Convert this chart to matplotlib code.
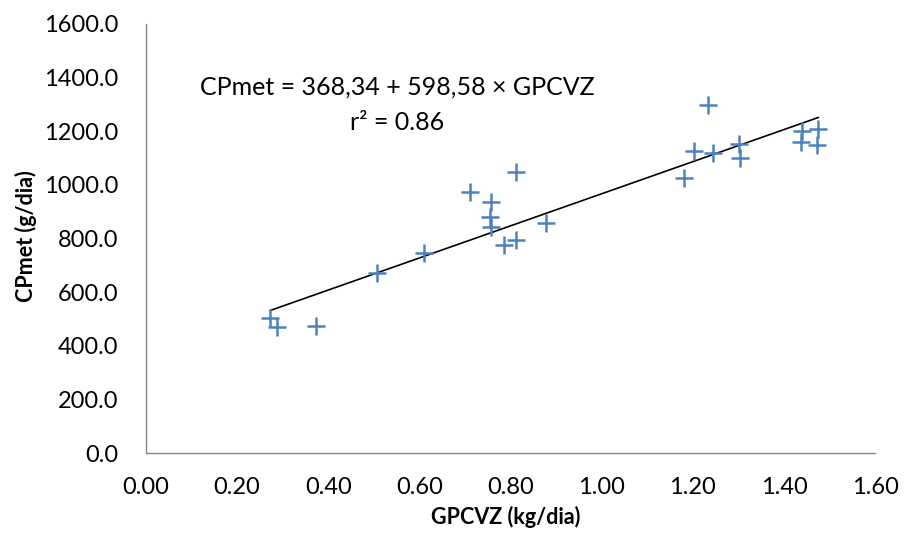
import matplotlib
matplotlib.use("Agg")
import matplotlib.pyplot as plt
import numpy as np

plt.rcParams['font.family'] = ['Lato', 'DejaVu Sans']

# Data
gpcvz = [0.273, 0.288, 0.374, 0.508, 0.611, 0.712, 0.758, 0.754, 0.758, 0.785,
         0.811, 0.811, 0.877, 1.180, 1.202, 1.233, 1.244, 1.301, 1.303, 1.440,
         1.437, 1.475, 1.473]
cpmet = [505, 470, 474, 672, 746, 974, 937, 881, 843, 776,
         795, 1049, 858, 1026, 1127, 1299, 1119, 1153, 1101, 1201,
         1160, 1209, 1149]
intercept = 368.34
slope = 598.58
x_ticks = [0.0, 0.2, 0.4, 0.6, 0.8, 1.0, 1.2, 1.4, 1.6]
y_ticks = [0, 200, 400, 600, 800, 1000, 1200, 1400, 1600]

fig = plt.figure(figsize=(9.06, 5.33), dpi=100)
ax = fig.add_axes([0.161, 0.150, 0.805, 0.805])

ax.plot(gpcvz, cpmet, linestyle='none', marker='+', markersize=13,
        markeredgewidth=1.8, color='#4F81BD', zorder=3)

xl = np.array([min(gpcvz), max(gpcvz)])
ax.plot(xl, intercept + slope * xl, color='black', linewidth=1.2, zorder=2)

ax.set_xlim(0, 1.6)
ax.set_ylim(0, 1600)
ax.set_xticks(x_ticks)
ax.set_xticklabels([f"{v:.2f}" for v in x_ticks])
ax.set_yticks(y_ticks)
ax.set_yticklabels([f"{v:.1f}" for v in y_ticks])
ax.tick_params(axis='both', length=0, labelsize=17)
ax.tick_params(axis='y', pad=20)
ax.tick_params(axis='x', pad=17)

for s in ['top', 'right']:
    ax.spines[s].set_visible(False)
for s in ['left', 'bottom']:
    ax.spines[s].set_color('#868686')
    ax.spines[s].set_linewidth(1.0)

ax.text(0.552, 1366, "CPmet = 368,34 + 598,58 × GPCVZ", ha='center', va='center',
        fontsize=18)
ax.text(0.552, 1231, "r² = 0.86", ha='center', va='center', fontsize=18)

fig.text(0.558, 0.03, "GPCVZ (kg/dia)", ha='center', va='center',
         fontsize=15.5, fontweight='bold')
fig.text(0.029, 0.557, "CPmet (g/dia)", ha='center', va='center',
         fontsize=15.5, fontweight='bold', rotation=90)

fig.savefig("out.png", dpi=100, facecolor='white')
